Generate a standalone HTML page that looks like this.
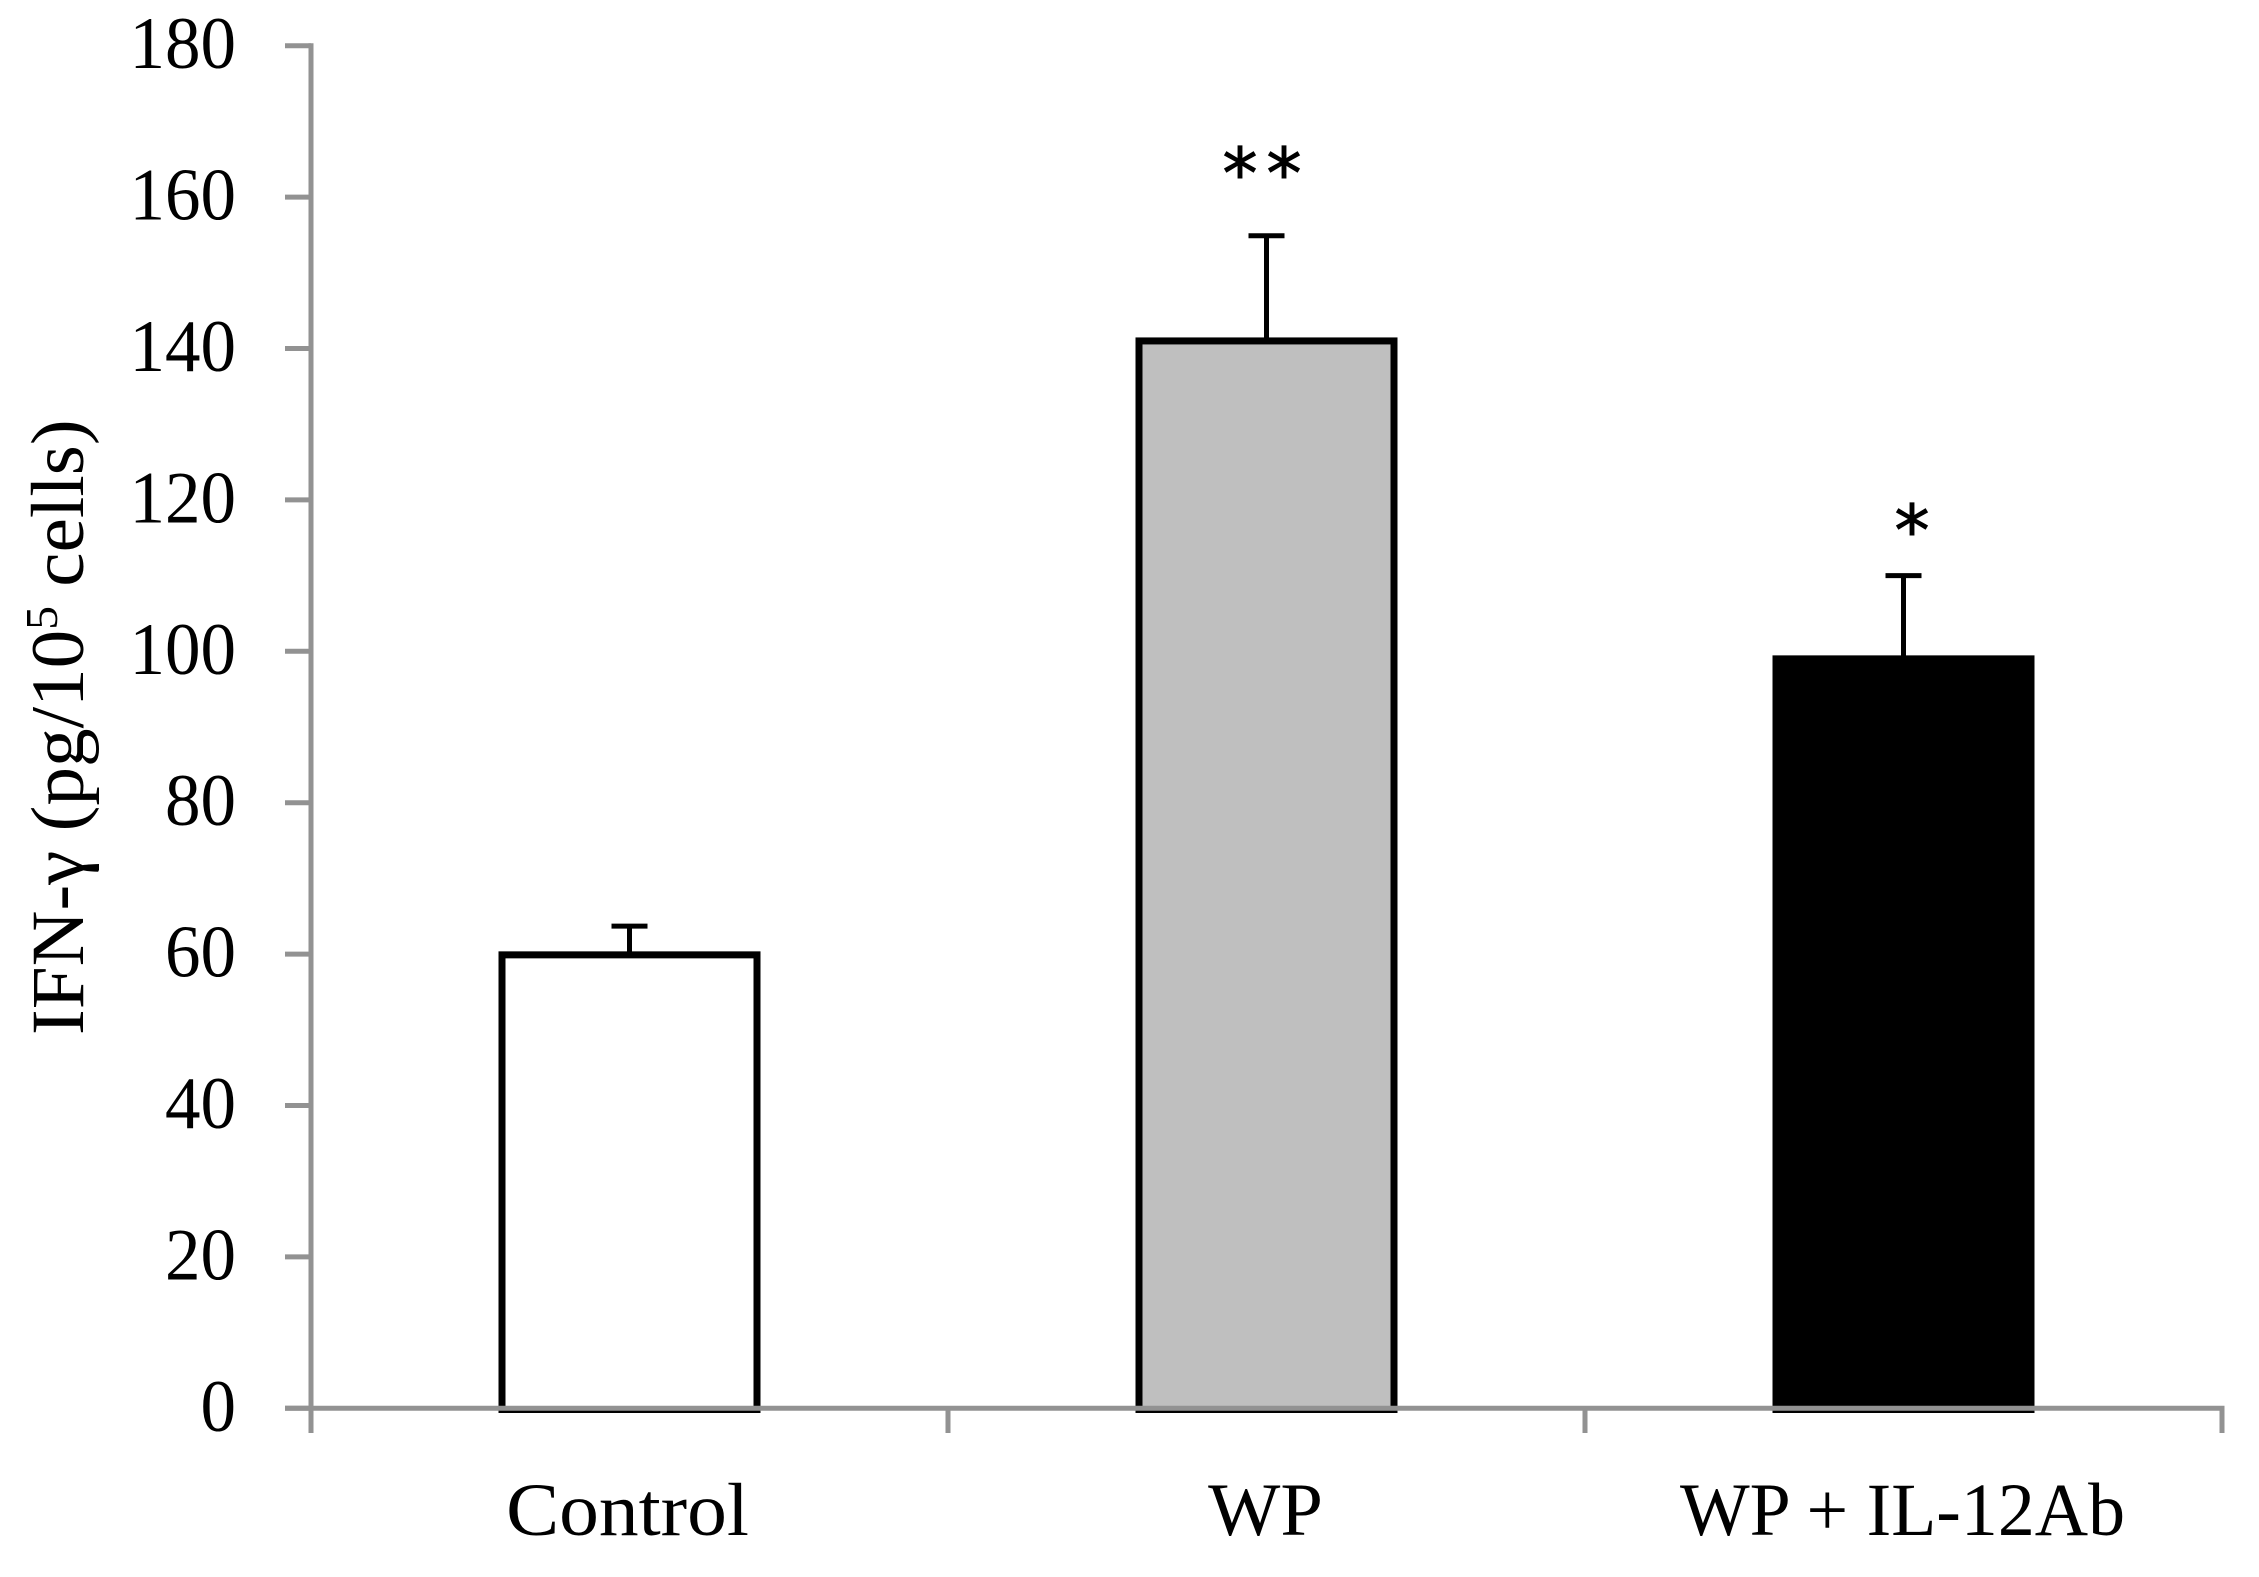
<!DOCTYPE html>
<html lang="en">
<head>
<meta charset="utf-8">
<title>IFN-γ bar chart</title>
<style>
  html, body { margin: 0; padding: 0; background: #fff; }
  svg { display: block; }
  text { font-family: "Liberation Serif", serif; fill: #000; }
</style>
</head>
<body>
<svg id="chart" xmlns="http://www.w3.org/2000/svg" width="2259" height="1577" viewBox="0 0 2259 1577">
  <rect width="2259" height="1577" fill="#fff"/>
  <g id="bars"></g>
  <g id="errors"></g>
  <g id="axes"></g>
  <g id="labels"></g>
  <g id="sig"></g>
  <text transform="translate(83,1035) rotate(-90) scale(1.03,1)" font-size="75">IFN-γ (pg/10<tspan dy="-26" font-size="46">5</tspan><tspan dy="26"> cells)</tspan></text>
</svg>
<script>
const categories = ['Control', 'WP', 'WP + IL-12Ab'];
const values = [59.9, 141, 99];
const errors = [3.8, 13.9, 11];
const barFills = ['#ffffff', '#bfbfbf', '#000000'];
const significance = ['', '**', '*'];
const significanceLevels = [0, 164.8, 117.6];
const yTicks = [0, 20, 40, 60, 80, 100, 120, 140, 160, 180];
const yTickLabels = ['0', '20', '40', '60', '80', '100', '120', '140', '160', '180'];

const NS = 'http://www.w3.org/2000/svg';
const AXIS = '#929292';
const plotLeft = 311;
const bandWidth = 637;
const zeroY = 1408.3;
const unitY = 7.57;
const barWidth = 255;
const labelStretch = [1.06, 1.02, 0.985];
const labelShift = [-2, -1, -1];
const sigShift = [0, 0, 13];

function x(i) { return plotLeft + bandWidth * (i + 0.5); }
function y(v) { return zeroY - v * unitY; }
function make(tag, parent) {
  const el = document.createElementNS(NS, tag);
  document.getElementById(parent).appendChild(el);
  return el;
}
function setLine(el, x1, y1, x2, y2, color, width) {
  el.setAttribute('x1', x1);
  el.setAttribute('y1', y1);
  el.setAttribute('x2', x2);
  el.setAttribute('y2', y2);
  el.setAttribute('stroke', color);
  el.setAttribute('stroke-width', width);
}

categories.forEach(function (name, i) {
  const bar = make('rect', 'bars');
  
  
  bar.setAttribute('x', x(i) - barWidth / 2);
  bar.setAttribute('y', y(values[i]));
  bar.setAttribute('width', barWidth);
  bar.setAttribute('height', y(0) + 1.2 - y(values[i]));
  bar.setAttribute('fill', barFills[i]);
  bar.setAttribute('stroke', '#000');
  bar.setAttribute('stroke-width', 7);

  const top = values[i] + errors[i];
  const stem = make('line', 'errors');
  
  
  setLine(stem, x(i), y(values[i]), x(i), y(top), '#000', 5);
  const cap = make('line', 'errors');
  
  
  setLine(cap, x(i) - 18, y(top), x(i) + 18, y(top), '#000', 5);

  const label = make('text', 'labels');
  
  
  label.setAttribute('font-size', 75);
  label.setAttribute('text-anchor', 'middle');
  label.setAttribute('transform', 'translate(' + (x(i) + labelShift[i]) + ',1535) scale(' + labelStretch[i] + ',1)');
  label.textContent = name;

  if (significance[i]) {
    const mark = make('text', 'sig');
    
    
    mark.setAttribute('font-size', 70);
    mark.setAttribute('text-anchor', 'middle');
    mark.setAttribute('letter-spacing', 9);
    mark.setAttribute('stroke', '#000');
    mark.setAttribute('stroke-width', 1);
    mark.setAttribute('style', 'font-family:"DejaVu Sans",sans-serif');
    mark.setAttribute('x', x(i) + sigShift[i]);
    mark.setAttribute('y', y(significanceLevels[i]) + 37);
    mark.textContent = significance[i];
  }
});

const yAxis = make('line', 'axes');


setLine(yAxis, plotLeft, y(180) - 2.5, plotLeft, 1433, AXIS, 5);
const xAxis = make('line', 'axes');


setLine(xAxis, 285, y(0), plotLeft + bandWidth * categories.length + 2.5, y(0), AXIS, 5);

yTicks.forEach(function (v, i) {
  const tick = make('line', 'axes');
  
  
  setLine(tick, 285, y(v), plotLeft, y(v), AXIS, 5);
  const label = make('text', 'labels');
  
  
  label.setAttribute('font-size', 74);
  label.setAttribute('text-anchor', 'end');
  label.setAttribute('transform', 'translate(236,' + (y(v) + 22.5) + ') scale(0.96,1)');
  label.textContent = yTickLabels[i];
});

for (let i = 1; i <= categories.length; i++) {
  const tick = make('line', 'axes');
  
  
  setLine(tick, plotLeft + bandWidth * i, y(0), plotLeft + bandWidth * i, 1433, AXIS, 5);
}
</script>
</body>
</html>
